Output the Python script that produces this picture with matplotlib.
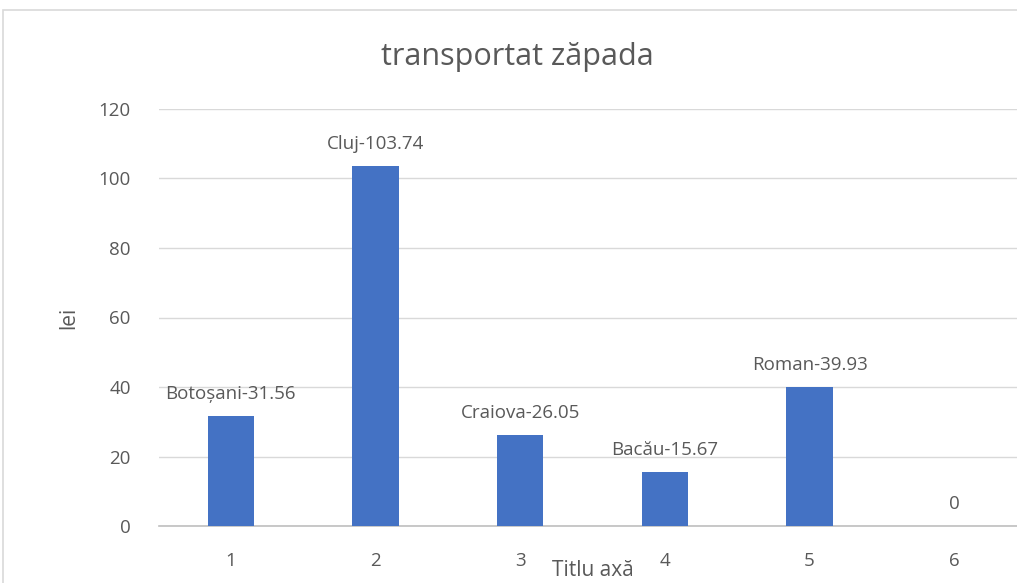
import matplotlib.pyplot as plt
from matplotlib.patches import Rectangle

W, H = 1017, 583
DPI = 100

categories = ["1", "2", "3", "4", "5", "6"]
values = [31.56, 103.74, 26.05, 15.67, 39.93, 0]
labels = ["Botoșani-31.56", "Cluj-103.74", "Craiova-26.05", "Bacău-15.67", "Roman-39.93", "0"]

TEXT = "#595959"
GRID = "#d9d9d9"
BAR = "#4472c4"

plt.rcParams["font.family"] = ["Open Sans", "DejaVu Sans"]

fig = plt.figure(figsize=(W / DPI, H / DPI), dpi=DPI)

# chart frame like the spreadsheet chart border
fig.patches.append(Rectangle((3 / W, -0.2), 1.2, 1.2 - 10 / H, transform=fig.transFigure,
                             fill=False, edgecolor=GRID, linewidth=1.2))

left, right, bottom, top = 158.5, 1026.5, 57, 474
ax = fig.add_axes([left / W, bottom / H, (right - left) / W, (top - bottom) / H])

x = list(range(len(categories)))
ax.bar(x, values, width=0.32, color=BAR, zorder=3)
for xi, v, lab in zip(x, values, labels):
    ax.annotate(lab, (xi, v), xytext=(0, 22), textcoords="offset pixels",
                ha="center", va="center", fontsize=13.5, color=TEXT)

ax.set_xlim(-0.5, len(categories) - 0.5)
ax.set_ylim(0, 120)
ax.set_yticks(range(0, 121, 20))
ax.set_xticks(x)
ax.set_xticklabels(categories)
ax.tick_params(length=0, labelsize=13.5, labelcolor=TEXT)
ax.tick_params(axis="y", pad=20)
ax.tick_params(axis="x", pad=19)
ax.grid(axis="y", color=GRID, linewidth=1, zorder=0)
for s in ["top", "right", "left"]:
    ax.spines[s].set_visible(False)
ax.spines["bottom"].set_color("#bfbfbf")
ax.spines["bottom"].set_linewidth(1.2)

ax.set_ylabel("lei", fontsize=15, color=TEXT, labelpad=14)
fig.text((left + right) / 2 / W, 1 - 570 / H, "Titlu axă", ha="center", va="center",
         fontsize=15, color=TEXT)
fig.text(517 / W, 1 - 57 / H, "transportat zăpada", ha="center", va="center",
         fontsize=22, color=TEXT)

fig.savefig("out.png", dpi=DPI)
